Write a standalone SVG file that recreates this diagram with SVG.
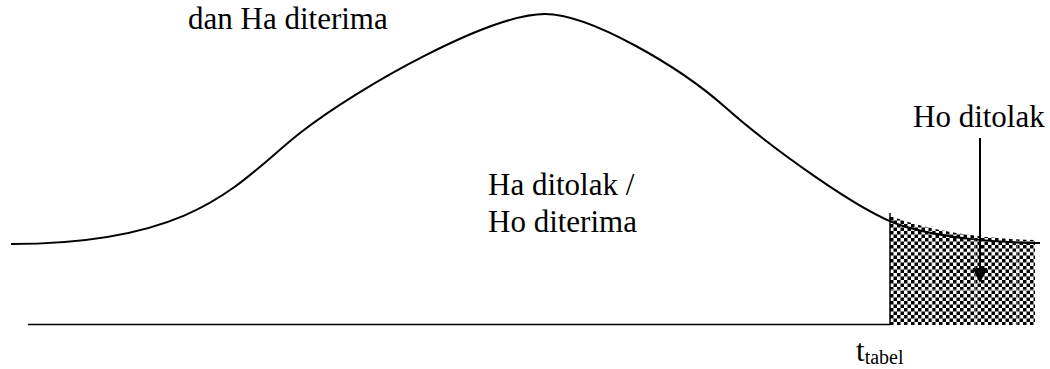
<svg xmlns="http://www.w3.org/2000/svg" width="1050" height="369" viewBox="0 0 1050 369">
  <style>
    .lbl { font-family: "Liberation Serif", "Times New Roman", serif; font-size: 31px; fill: #000; }
    .sub { font-family: "Liberation Serif", "Times New Roman", serif; font-size: 20px; fill: #000; }
    .ln { fill: none; stroke: #000; }
  </style>
  <defs>
    <pattern id="checker" x="890" y="0" width="7" height="7" patternUnits="userSpaceOnUse">
      <rect x="0" y="0" width="7" height="7" fill="#fff"/>
      <rect x="0" y="0" width="3.5" height="3.5" fill="#000"/>
      <rect x="3.5" y="3.5" width="3.5" height="3.5" fill="#000"/>
    </pattern>
  </defs>
  <rect width="1050" height="369" fill="#fff"/>

  <g id="rejection-area">
    <path d="M890,216 Q950,238 1035,240 L1035,325 L890,325 Z" fill="url(#checker)"/>
    <g stroke="#c8c8c8" stroke-width="1" opacity="0.8">
      <line x1="932" y1="226" x2="932" y2="325"/>
      <line x1="975" y1="236" x2="975" y2="325"/>
      <line x1="1017" y1="240" x2="1017" y2="325"/>
      <line x1="890" y1="252" x2="1035" y2="252"/>
      <line x1="890" y1="290" x2="1035" y2="290"/>
    </g>
  </g>

  <g id="curve">
    <path class="ln" stroke-width="2" d="M11,244 C200,244 240,180 300,133 C360,86 490,14 545,14 C590,14 680,67 725,107 C770,147 860,212 900,225 C940,238 1000,243 1040,243"/>
  </g>

  <g id="axes">
    <line class="ln" stroke-width="1.5" x1="28" y1="324.5" x2="890" y2="324.5"/>
    <line class="ln" stroke-width="1.5" x1="890" y1="213" x2="890" y2="325"/>
  </g>

  <g id="connectors">
    <line class="ln" stroke-width="2" x1="980" y1="138" x2="980" y2="270"/>
    <polygon points="972.5,268 987.5,268 980,283" fill="#000"/>
  </g>

  <g id="label-top"><text class="lbl" x="188" y="29">dan Ha diterima</text></g>
  <g id="label-accept">
    <text class="lbl" x="488" y="195">Ha ditolak /</text>
    <text class="lbl" x="488" y="232">Ho diterima</text>
  </g>
  <g id="label-reject"><text class="lbl" x="913" y="127">Ho ditolak</text></g>
  <g id="label-ttabel"><text class="lbl" x="856" y="361">t<tspan class="sub" dy="3">tabel</tspan></text></g>
</svg>
